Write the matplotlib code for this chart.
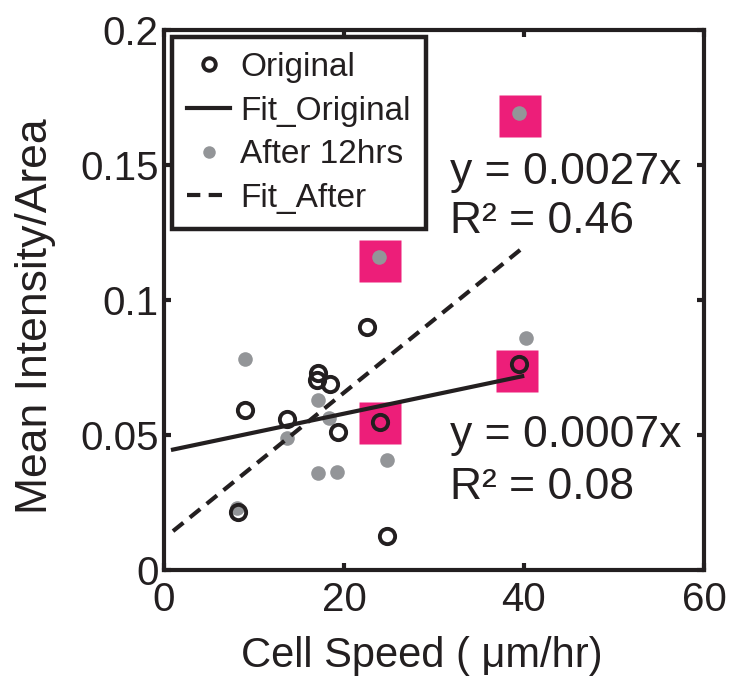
import numpy as np
import matplotlib
matplotlib.use("Agg")
import matplotlib.pyplot as plt
from matplotlib.lines import Line2D

plt.rcParams['font.family'] = ['Liberation Sans', 'DejaVu Sans']

# cell speed (um/hr) vs mean intensity per area
orig_x = [22.6, 17.1, 17.0, 18.4, 9.0, 13.7, 19.3, 24.0, 8.2, 24.8, 39.4]
orig_y = [0.0899, 0.0728, 0.0704, 0.0689, 0.0593, 0.0558, 0.0511, 0.0549, 0.0214, 0.0126, 0.0763]

after_x = [9.0, 17.1, 18.3, 13.7, 17.1, 19.2, 24.8, 8.1, 39.4, 23.9, 40.2]
after_y = [0.078, 0.063, 0.0562, 0.049, 0.036, 0.0364, 0.0407, 0.0231, 0.1694, 0.116, 0.0858]

# highlighted cells
hl_x = [39.6, 24.0, 39.2, 24.0]
hl_y = [0.168, 0.1146, 0.0737, 0.0544]

# linear fits: slope, intercept, r^2
fit_orig = (0.0007, 0.0439, 0.08)
fit_after = (0.0027, 0.0117, 0.46)
fit_x = np.array([1.0, 39.8])

xticks = [0, 20, 40, 60]
yticks = [0, 0.05, 0.1, 0.15, 0.2]
ytick_labels = ['0', '0.05', '0.1', '0.15', '0.2']

pink = '#ED1E79'
grey = '#939598'
ink = '#231F20'

fig = plt.figure(figsize=(7.30, 6.79), dpi=100)
ax = fig.add_axes([164 / 730, 109 / 679, 540 / 730, 540 / 679])

ax.plot(hl_x, hl_y, 's', ms=30, color=pink, mec='none', zorder=1)
ax.plot(after_x, after_y, 'o', ms=10.5, color=grey, mec='none', zorder=2)
ax.plot(orig_x, orig_y, 'o', ms=11, mfc='none', mec=ink, mew=2.8, zorder=3)
ax.plot(fit_x, fit_orig[0] * fit_x + fit_orig[1], '-', color=ink, lw=3, zorder=4)
ax.plot(fit_x, fit_after[0] * fit_x + fit_after[1], '--', color=ink, lw=3,
        dashes=(3.2, 2.0), zorder=4)

eq_size = 32
ax.text(31.8, 0.1474, 'y = %.4fx' % fit_after[0], fontsize=eq_size, va='center', color=ink)
ax.text(31.8, 0.1289, 'R² = %.2f' % fit_after[2], fontsize=eq_size, va='center', color=ink)
ax.text(31.8, 0.0500, 'y = %.4fx' % fit_orig[0], fontsize=eq_size, va='center', color=ink)
ax.text(31.8, 0.0307, 'R² = %.2f' % fit_orig[2], fontsize=eq_size, va='center', color=ink)

ax.set_xlim(0, 60)
ax.set_ylim(0, 0.2)
ax.set_xticks(xticks)
ax.set_yticks(yticks)
ax.set_yticklabels(ytick_labels)
ax.tick_params(direction='in', length=5, width=3, top=True, right=True,
               labelsize=29, colors=ink)
ax.tick_params(axis='x', pad=8)
ax.tick_params(axis='y', pad=4)
for sp in ax.spines.values():
    sp.set_linewidth(3)
    sp.set_color(ink)

ax.set_xlabel('Cell Speed ( μm/hr)', fontsize=30, color=ink)
ax.set_ylabel('Mean Intensity/Area', fontsize=32, color=ink)
ax.xaxis.set_label_coords(0.478, -0.122)
ax.yaxis.set_label_coords(-0.2, 0.47)

handles = [
    Line2D([], [], marker='o', ls='none', ms=9, mfc='none', mec=ink, mew=2.8),
    Line2D([], [], ls='-', color=ink, lw=3),
    Line2D([], [], marker='o', ls='none', ms=9, color=grey, mec='none'),
    Line2D([], [], ls='--', color=ink, lw=3, dashes=(3.2, 2.0)),
]
labels = ['Original', 'Fit_Original', 'After 12hrs', 'Fit_After']
leg = ax.legend(handles, labels, loc='upper left', bbox_to_anchor=(0.0148, 0.987),
                fontsize=24, frameon=True, fancybox=False, framealpha=1,
                borderpad=0.45, handlelength=1.3, handletextpad=0.3,
                labelspacing=0.38, borderaxespad=0)
leg.get_frame().set_edgecolor(ink)
leg.get_frame().set_linewidth(3.2)
for t in leg.get_texts():
    t.set_color(ink)

fig.savefig('out.png', dpi=100)
